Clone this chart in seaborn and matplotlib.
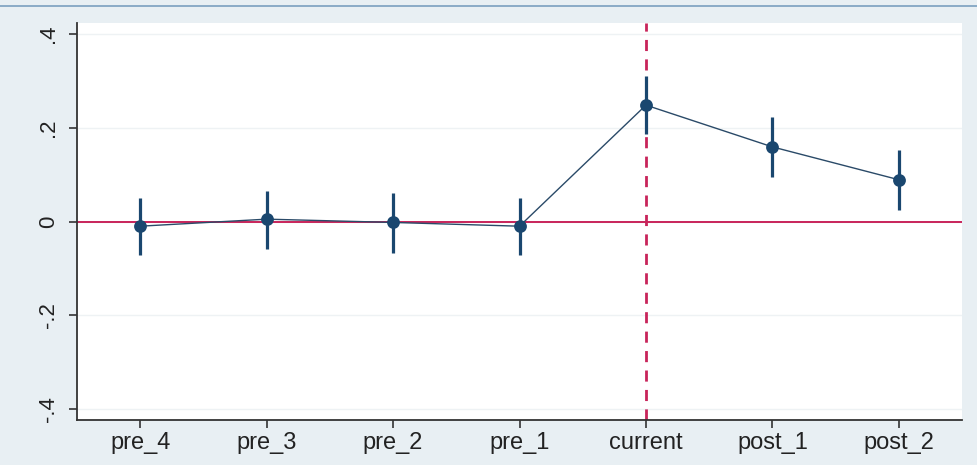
import numpy as np
import pandas as pd
import matplotlib
matplotlib.use("Agg")
import matplotlib.pyplot as plt
import seaborn as sns

# event-study coefficients
periods = ["pre_4", "pre_3", "pre_2", "pre_1", "current", "post_1", "post_2"]
coef = [-0.010, 0.005, -0.002, -0.010, 0.248, 0.159, 0.089]
ci_low = [-0.072, -0.059, -0.068, -0.072, 0.186, 0.095, 0.025]
ci_high = [0.050, 0.066, 0.061, 0.051, 0.310, 0.222, 0.153]
yticks = [-0.4, -0.2, 0, 0.2, 0.4]
ytick_labels = ["-.4", "-.2", "0", ".2", ".4"]

df = pd.DataFrame({"period": periods, "coef": coef, "lo": ci_low, "hi": ci_high})
df["x"] = np.arange(len(df))

sns.set_style("white")
plt.rcParams["font.family"] = ["Liberation Sans", "DejaVu Sans"]

navy = "#1a476f"
red = "#c8245a"
bg = "#e8eff3"

fig = plt.figure(figsize=(9.78, 4.65), dpi=100, facecolor=bg)
ax = fig.add_axes([0.0787, 0.0968, 0.905, 0.8537])
ax.set_facecolor("white")

# gridlines
for t in yticks:
    ax.axhline(t, color="#eef2f4", lw=1.0, zorder=0)

ax.axhline(0, color=red, lw=1.4, zorder=1)
ax.axvline(4, color=red, lw=2.0, ls=(0, (4, 3)), zorder=1)

ax.vlines(df["x"], df["lo"], df["hi"], color=navy, lw=2.3, zorder=2)
sns.lineplot(data=df, x="x", y="coef", color="#2a4a68", lw=1.0, ax=ax, zorder=3)
sns.scatterplot(data=df, x="x", y="coef", color=navy, s=85, edgecolor=navy,
                linewidth=0, ax=ax, zorder=4)

ax.set_xlim(-0.5, 6.5)
ax.set_ylim(-0.423, 0.423)
ax.set_xticks(df["x"])
ax.set_xticklabels(periods, fontsize=17)
ax.set_yticks(yticks)
ax.set_yticklabels(ytick_labels, fontsize=16, rotation=90, va="center")
ax.set_xlabel("")
ax.set_ylabel("")

for s in ["top", "right"]:
    ax.spines[s].set_visible(False)
for s in ["left", "bottom"]:
    ax.spines[s].set_color("#333333")
    ax.spines[s].set_linewidth(1.3)
ax.tick_params(axis="both", direction="out", length=6, width=1.2, color="#333333",
               left=True, bottom=True, colors="#222222")
ax.tick_params(axis="x", pad=3)
ax.tick_params(axis="y", pad=7)

# thin blue rule along the top edge
fig.add_artist(plt.Line2D([0, 1], [0.987, 0.987], transform=fig.transFigure,
                          color="#7a9fbf", lw=1.2))

fig.savefig("out.png", dpi=100, facecolor=bg)
